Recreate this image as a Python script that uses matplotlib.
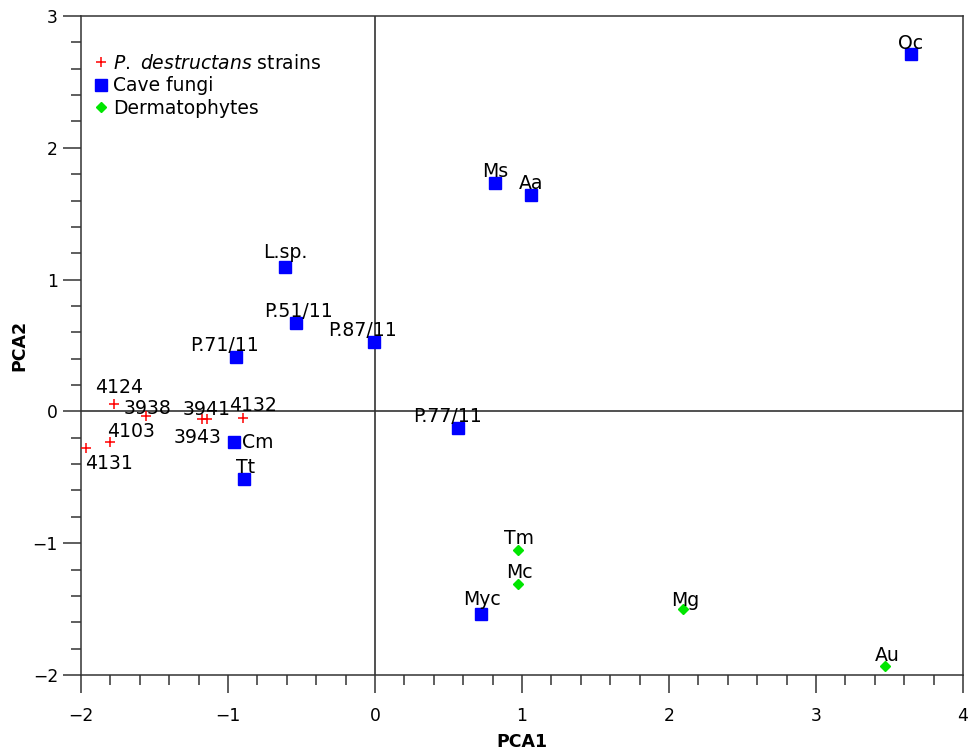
import matplotlib
matplotlib.use("Agg")
import matplotlib.pyplot as plt
from matplotlib.ticker import MultipleLocator

plt.rcParams['font.family'] = ['DejaVu Sans']
plt.rcParams['mathtext.fontset'] = 'dejavusans'

# P. destructans strains
pd_names = ['4124', '3938', '4103', '4131', '3943', '3941', '4132']
pd_x = [-1.773, -1.560, -1.803, -1.966, -1.175, -1.141, -0.900]
pd_y = [0.054, -0.033, -0.230, -0.280, -0.060, -0.060, -0.052]

# Cave fungi
cave_names = ['Oc', 'Ms', 'Aa', 'L.sp.', 'P.51/11', 'P.87/11', 'P.71/11',
              'P.77/11', 'Cm', 'Tt', 'Myc']
cave_x = [3.644, 0.814, 1.059, -0.612, -0.540, -0.007, -0.948, 0.567, -0.957, -0.889, 0.720]
cave_y = [2.709, 1.735, 1.642, 1.098, 0.673, 0.524, 0.410, -0.124, -0.230, -0.512, -1.535]

# Dermatophytes
derm_names = ['Tm', 'Mc', 'Mg', 'Au']
derm_x = [0.973, 0.973, 2.097, 3.471]
derm_y = [-1.049, -1.307, -1.502, -1.935]

# label offsets in pixels (dx right, dy up), baseline aligned
PX = 72.0 / 100.0
pd_off = [(5, 11), (2, 2), (21, 5), (23.5, -21), (-5, -24), (-1, 4.3), (10, 7.6)]
cave_off = [(0, 5.3), (1, 6), (0, 6), (0, 8.4), (3.3, 5.4), (-11.3, 6.3), (-10.7, 6.6),
            (-11, 5.4), (23.7, -6.3), (1.4, 5.7), (1, 9.2)]
derm_off = [(1, 5.8), (1, 5.7), (2, 3.4), (2.4, 5.1)]

fig = plt.figure(figsize=(9.74, 7.52), dpi=100)
ax = fig.add_axes([81/974, 1-675/752, (963-81)/974, (675-16)/752])

axcol = '#333333'
ax.axhline(0, color=axcol, lw=1.2, zorder=1)
ax.axvline(0, color=axcol, lw=1.2, zorder=1)

ax.plot(pd_x, pd_y, ls='none', marker='+', color='#ff0000', ms=7.5, mew=1.1,
        label=r'$\it{P.\ destructans}$ strains', zorder=3)
ax.plot(cave_x, cave_y, ls='none', marker='s', color='#0000ff', ms=8.5,
        label='Cave fungi', zorder=3)
ax.plot(derm_x, derm_y, ls='none', marker='D', color='#00e600', ms=5.5,
        label='Dermatophytes', zorder=3)

fs = 13.6
for names, xs, ys, offs in [(pd_names, pd_x, pd_y, pd_off),
                            (cave_names, cave_x, cave_y, cave_off),
                            (derm_names, derm_x, derm_y, derm_off)]:
    for n, x, y, (dx, dy) in zip(names, xs, ys, offs):
        ax.annotate(n, (x, y), xytext=(dx*PX, dy*PX), textcoords='offset points',
                    ha='center', va='baseline', fontsize=fs, color='black', zorder=4)

ax.set_xlim(-2, 4)
ax.set_ylim(-2, 3)
ax.xaxis.set_major_locator(MultipleLocator(1))
ax.xaxis.set_minor_locator(MultipleLocator(0.2))
ax.yaxis.set_major_locator(MultipleLocator(1))
ax.yaxis.set_minor_locator(MultipleLocator(0.2))

for s in ax.spines.values():
    s.set_color(axcol)
    s.set_linewidth(1.1)

ax.tick_params(axis='both', which='major', direction='out', length=13, width=1.1,
               color=axcol, labelsize=12.3, top=False, right=False)
ax.tick_params(axis='both', which='minor', direction='out', length=7.2, width=1.1,
               color=axcol, top=False, right=False)
ax.tick_params(axis='x', which='major', pad=10)
ax.tick_params(axis='y', which='major', pad=3.5)

ax.set_xlabel('PCA1', fontsize=12.5, fontweight='bold', labelpad=6)
ax.set_ylabel('PCA2', fontsize=12.5, fontweight='bold', labelpad=3)

leg = ax.legend(loc='upper left', bbox_to_anchor=(0.0, 0.963), frameon=False,
                fontsize=13.5, handlelength=0.7, handletextpad=0.3, labelspacing=0.2,
                borderaxespad=0.3, numpoints=1)

fig.savefig('out.png', dpi=100)
